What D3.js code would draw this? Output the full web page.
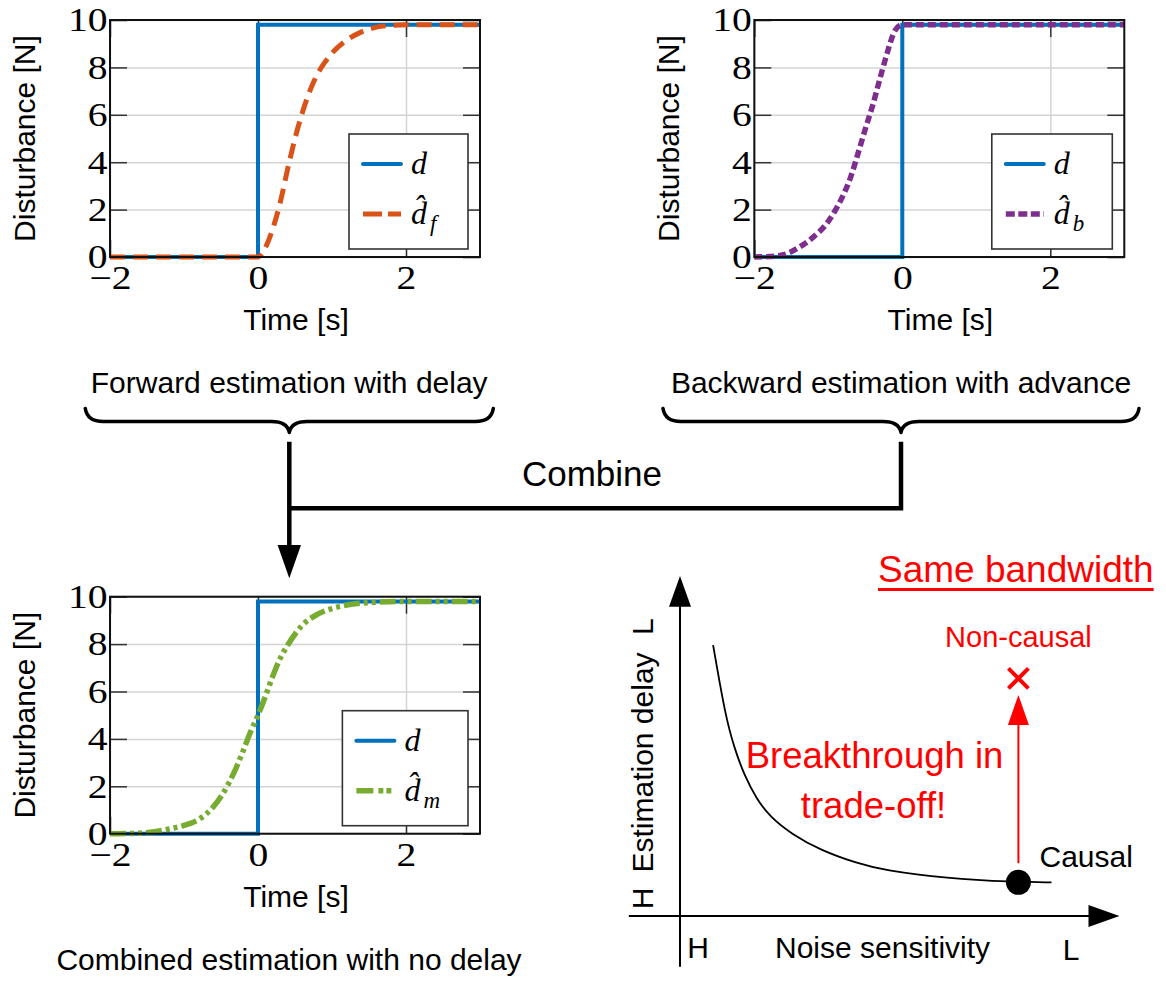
<!DOCTYPE html>
<html><head><meta charset="utf-8">
<script src="https://cdn.jsdelivr.net/npm/d3@7"></script>
<style>body{margin:0;background:#fff} svg{display:block}</style>
</head><body>
<script>
// ---------------- data ----------------
const xTicks = [-2, 0, 2];
const yTicks = [0, 2, 4, 6, 8, 10];
const timeDomain = [-2, 3];
const valueDomain = [0, 10];

const stepTime  = [-2, 0, 0, 3];
const stepValue = [0, 0, 9.8, 9.8];

const fwdTime  = [-2, 0, 0.1, 0.2, 0.3, 0.4, 0.5, 0.6, 0.7, 0.8, 0.9, 1.0, 1.2, 1.4, 1.6, 1.8, 2.0, 3.0];
const fwdValue = [0, 0, 0.4, 1.2, 2.3, 3.7, 5.0, 6.1, 7.0, 7.7, 8.2, 8.6, 9.15, 9.5, 9.7, 9.77, 9.8, 9.8];

const bwdTime  = [-2, -1.8, -1.6, -1.4, -1.2, -1.0, -0.9, -0.8, -0.7, -0.6, -0.5, -0.4, -0.3, -0.2, -0.1, 0, 3];
const bwdValue = [0, 0.02, 0.1, 0.4, 0.85, 1.5, 2.0, 2.6, 3.35, 4.35, 5.4, 6.4, 7.55, 8.65, 9.55, 9.8, 9.8];

const cmbTime  = [-2, -1.6, -1.4, -1.2, -1.0, -0.8, -0.6, -0.4, -0.3, -0.2, -0.1, 0, 0.1, 0.2, 0.3, 0.4, 0.6, 0.8, 1.0, 1.2, 1.5, 2, 3];
const cmbValue = [0, 0.02, 0.08, 0.2, 0.35, 0.6, 1.15, 2.1, 2.75, 3.5, 4.3, 5.0, 5.8, 6.65, 7.4, 7.95, 8.8, 9.25, 9.5, 9.65, 9.75, 9.8, 9.8];

// trade-off sketch (arbitrary 0..100 units)
const tradeNoise = [7.7, 10.5, 12.6, 15.0, 17.8, 20.9, 26.0, 32.6, 41.1, 47.3, 62.0, 77.5, 86.4];
const tradeDelay = [82.1, 61.0, 51.0, 42.5, 35.5, 30.1, 24.8, 20.0, 16.0, 13.9, 11.4, 10.3, 10.2];
const causalPoint = [78.7, 10.2];
const nonCausalPoint = [78.7, 72.0];

// ---------------- setup ----------------
const W = 1166, H = 981;
const SANS = "'Liberation Sans', Arial, Helvetica, sans-serif";
const SERIF = "'Liberation Serif', 'Times New Roman', serif";
const FS = 30;
const svg = d3.select("body").append("svg").attr("width", W).attr("height", H)
  .style("background", "#fff");

const PW = 370, PH = 237;

function panel(left, top, est) {
  const g = svg.append("g");
  const x = d3.scaleLinear().domain(timeDomain).range([left, left + PW]);
  const y = d3.scaleLinear().domain(valueDomain).range([top + PH, top]);
  const bottom = top + PH, right = left + PW;

  // grid
  const gx = g.append("g").attr("transform", `translate(0,${bottom})`)
    .call(d3.axisBottom(x).tickValues(xTicks).tickSize(-PH).tickFormat(""));
  const gy = g.append("g").attr("transform", `translate(${left},0)`)
    .call(d3.axisLeft(y).tickValues(yTicks).tickSize(-PW).tickFormat(""));
  [gx, gy].forEach(a => { a.select(".domain").remove(); a.selectAll("line").attr("stroke", "#d4d4d4").attr("stroke-width", 1.5); });

  // inner ticks on all sides
  const tl = 17;
  const axes = [
    g.append("g").attr("transform", `translate(0,${bottom})`).call(d3.axisBottom(x).tickValues(xTicks).tickSize(-tl).tickFormat("")),
    g.append("g").attr("transform", `translate(0,${top})`).call(d3.axisTop(x).tickValues(xTicks).tickSize(-tl).tickFormat("")),
    g.append("g").attr("transform", `translate(${left},0)`).call(d3.axisLeft(y).tickValues(yTicks).tickSize(-tl).tickFormat("")),
    g.append("g").attr("transform", `translate(${right},0)`).call(d3.axisRight(y).tickValues(yTicks).tickSize(-tl).tickFormat(""))
  ];
  axes.forEach(a => { a.select(".domain").remove(); a.selectAll("line").attr("stroke", "#333").attr("stroke-width", 1.5); });

  // tick labels (wide serif digits, like the original)
  const lx = g.append("g").attr("transform", `translate(0,${bottom})`)
    .call(d3.axisBottom(x).tickValues(xTicks).tickSize(0).tickFormat(d3.format("d")));
  lx.select(".domain").remove();
  lx.selectAll("text").attr("y", 32).attr("dy", 0).attr("transform", "scale(1.2,1)")
    .attr("font-family", SERIF).attr("font-size", 33).attr("fill", "#000");
  const ly = g.append("g").attr("transform", `translate(${left},0)`)
    .call(d3.axisLeft(y).tickValues(yTicks).tickSize(0).tickPadding(2).tickFormat(d3.format("d")));
  ly.select(".domain").remove();
  ly.selectAll("text").attr("dy", "0.33em").attr("transform", "scale(1.2,1)")
    .attr("font-family", SERIF).attr("font-size", 33).attr("fill", "#000");

  // data lines
  const line = d3.line().x(d => x(d[0])).y(d => y(d[1]));
  const stepData = stepTime.map((t, i) => [t, stepValue[i]]);
  g.append("path").datum(stepData).attr("d", line)
    .attr("fill", "none").attr("stroke", "#0072BD").attr("stroke-width", 4);
  const estData = est.t.map((t, i) => [t, est.v[i]]);
  g.append("path").datum(estData).attr("d", line.curve(d3.curveMonotoneX))
    .attr("fill", "none").attr("stroke", est.color).attr("stroke-width", est.width)
    .attr("stroke-dasharray", est.dash).attr("stroke-linecap", "butt");

  // frame
  g.append("rect").attr("x", left).attr("y", top).attr("width", PW).attr("height", PH)
    .attr("fill", "none").attr("stroke", "#111").attr("stroke-width", 2);

  // axis titles
  g.append("text").attr("x", left + PW / 2 + 1).attr("y", bottom + 73)
    .attr("text-anchor", "middle").attr("font-family", SANS).attr("font-size", FS)
    .text("Time [s]");
  g.append("text").attr("transform", `translate(${left - 75},${top + PH / 2}) rotate(-90)`)
    .attr("text-anchor", "middle").attr("font-family", SANS).attr("font-size", FS)
    .text("Disturbance [N]");

  // legend
  const lg = g.append("g");
  const box = lg.append("rect").attr("fill", "#fff").attr("stroke", "#333").attr("stroke-width", 1.6);
  const rows = [
    { color: "#0072BD", dash: null, width: 4, sub: null, cap: "round" },
    { color: est.color, dash: est.legendDash || est.dash, width: est.width, sub: est.sub, cap: "butt" }
  ];
  const texts = lg.append("g");
  const ltop = top + 114;
  rows.forEach((r, i) => {
    const ry = ltop + 30 + i * 50;
    lg.append("line").attr("class", "smp").attr("y1", ry).attr("y2", ry)
      .attr("stroke", r.color).attr("stroke-width", r.width)
      .attr("stroke-dasharray", r.dash).attr("stroke-linecap", r.cap);
    const t = texts.append("text").attr("y", ry + 10).attr("font-family", SERIF)
      .attr("font-style", "italic").attr("font-size", 32);
    t.append("tspan").text(r.sub ? "d\u0302" : "d");
    if (r.sub) {
      t.append("tspan").attr("font-size", 23).attr("dx", 3).attr("dy", 7).text(r.sub);
    }
  });
  texts.selectAll("text").attr("x", 0);
  const tw = d3.max(texts.selectAll("text").nodes(), n => n.getBBox().width);
  const bw = 62 + tw + 28;
  const bl = right - 12 - bw;
  box.attr("x", bl).attr("y", ltop).attr("width", bw).attr("height", 115);
  lg.selectAll("line.smp").attr("x1", bl + 14).attr("x2", bl + 52);
  texts.selectAll("text").attr("x", bl + 62);
}

panel(110, 20, { t: fwdTime, v: fwdValue, color: "#D95319", dash: "15,8", legendDash: "19,6", width: 5, sub: "f" });
panel(754.3, 20, { t: bwdTime, v: bwdValue, color: "#7E2F8E", dash: "8,4", legendDash: "9,3.5", width: 5.5, sub: "b" });
panel(110, 596.7, { t: cmbTime, v: cmbValue, color: "#77AC30", dash: "16,4,4,4,4,4", legendDash: "17,5,5,3,5,3", width: 5.5, sub: "m" });

// ---------------- braces & combine flow ----------------
function brace(cx, half, topY) {
  const yh = topY + 13, tip = topY + 24;
  const p = `M${cx - half},${topY} Q${cx - half + 2},${yh} ${cx - half + 18},${yh} L${cx - 18},${yh} Q${cx - 2},${yh} ${cx},${tip} Q${cx + 2},${yh} ${cx + 18},${yh} L${cx + half - 18},${yh} Q${cx + half - 2},${yh} ${cx + half},${topY}`;
  svg.append("path").attr("d", p).attr("fill", "none").attr("stroke", "#000").attr("stroke-width", 3.5)
    .attr("stroke-linejoin", "round").attr("stroke-linecap", "round");
}
brace(289.3, 204, 408.5);
brace(901, 238, 408.5);

svg.append("text").attr("x", 289.2).attr("y", 393).attr("text-anchor", "middle")
  .attr("font-family", SANS).attr("font-size", FS).text("Forward estimation with delay");
svg.append("text").attr("x", 901).attr("y", 393).attr("text-anchor", "middle")
  .attr("font-family", SANS).attr("font-size", FS).text("Backward estimation with advance");
svg.append("text").attr("x", 592).attr("y", 486).attr("text-anchor", "middle")
  .attr("font-family", SANS).attr("font-size", 35).text("Combine");

svg.append("path").attr("d", "M289.3,441.7 L289.3,548 M289.3,508.3 L901,508.3 L901,441.7")
  .attr("fill", "none").attr("stroke", "#000").attr("stroke-width", 4.5);
svg.append("path").attr("d", "M277.6,545 L301,545 L289.3,578.3 Z").attr("fill", "#000");

svg.append("text").attr("x", 289).attr("y", 970).attr("text-anchor", "middle")
  .attr("font-family", SANS).attr("font-size", FS).text("Combined estimation with no delay");

// ---------------- trade-off sketch ----------------
const tx = d3.scaleLinear().domain([0, 100]).range([680, 1110]);
const ty = d3.scaleLinear().domain([0, 100]).range([916, 586]);
const d2 = svg.append("g");
// axes
d2.append("line").attr("x1", tx(0)).attr("x2", tx(0)).attr("y1", ty(-15.4)).attr("y2", ty(94))
  .attr("stroke", "#000").attr("stroke-width", 2);
d2.append("path").attr("d", `M${tx(0) - 11},${ty(93.7)} L${tx(0) + 11},${ty(93.7)} L${tx(0)},${ty(103)} Z`).attr("fill", "#000");
d2.append("line").attr("x1", tx(-11.9)).attr("x2", tx(95.5)).attr("y1", ty(0)).attr("y2", ty(0))
  .attr("stroke", "#000").attr("stroke-width", 2);
d2.append("path").attr("d", `M${tx(95)},${ty(0) - 11} L${tx(95)},${ty(0) + 11} L${tx(102.2)},${ty(0)} Z`).attr("fill", "#000");

// trade-off curve
const tradeData = tradeNoise.map((n, i) => [n, tradeDelay[i]]);
d2.append("path").datum(tradeData)
  .attr("d", d3.line().x(d => tx(d[0])).y(d => ty(d[1])).curve(d3.curveBasis))
  .attr("fill", "none").attr("stroke", "#000").attr("stroke-width", 1.8);

// red arrow causal -> non-causal
const ax = tx(causalPoint[0]);
d2.append("line").attr("x1", ax).attr("x2", ax).attr("y1", ty(16)).attr("y2", ty(58.5))
  .attr("stroke", "#ff0000").attr("stroke-width", 2);
d2.append("path").attr("d", `M${ax - 10.5},${ty(57.9)} L${ax + 10.5},${ty(57.9)} L${ax},${ty(67)} Z`).attr("fill", "#ff0000");

// causal dot
d2.append("circle").attr("cx", tx(causalPoint[0])).attr("cy", ty(causalPoint[1])).attr("r", 12.5).attr("fill", "#000");
// non-causal cross
const cx0 = tx(nonCausalPoint[0]), cy0 = ty(nonCausalPoint[1]);
d2.append("path").attr("d", `M${cx0 - 10},${cy0 - 10} L${cx0 + 10},${cy0 + 10} M${cx0 - 10},${cy0 + 10} L${cx0 + 10},${cy0 - 10}`)
  .attr("stroke", "#ff0000").attr("stroke-width", 4);

// labels
const sb = d2.append("text").attr("x", 878).attr("y", 582).attr("font-family", SANS).attr("font-size", 37)
  .attr("fill", "#ff0000").text("Same bandwidth");
const sbw = sb.node().getComputedTextLength();
d2.append("line").attr("x1", 878).attr("x2", 878 + sbw).attr("y1", 589.5).attr("y2", 589.5)
  .attr("stroke", "#ff0000").attr("stroke-width", 3);
d2.append("text").attr("x", cx0).attr("y", 647).attr("text-anchor", "middle").attr("font-family", SANS)
  .attr("font-size", 29).attr("fill", "#ff0000").text("Non-causal");
d2.append("text").attr("x", 874.5).attr("y", 768).attr("text-anchor", "middle").attr("font-family", SANS)
  .attr("font-size", 36.5).attr("fill", "#ff0000").text("Breakthrough in");
d2.append("text").attr("x", 873.5).attr("y", 818).attr("text-anchor", "middle").attr("font-family", SANS)
  .attr("font-size", 36.5).attr("fill", "#ff0000").text("trade-off!");
d2.append("text").attr("x", 1039.5).attr("y", 866.7).attr("font-family", SANS)
  .attr("font-size", FS).text("Causal");
d2.append("text").attr("x", 775).attr("y", 958.3).attr("font-family", SANS)
  .attr("font-size", FS).text("Noise sensitivity");
d2.append("text").attr("x", 687.3).attr("y", 958.3).attr("font-family", SANS)
  .attr("font-size", FS).text("H");
d2.append("text").attr("x", 1062.7).attr("y", 960).attr("font-family", SANS)
  .attr("font-size", FS).text("L");
[["Estimation delay", 762.5], ["H", 898.3], ["L", 626.7]].forEach(([s, yy]) => {
  d2.append("text").attr("transform", `translate(653,${yy}) rotate(-90)`).attr("text-anchor", "middle")
    .attr("font-family", SANS).attr("font-size", FS).text(s);
});
</script>
</body></html>
